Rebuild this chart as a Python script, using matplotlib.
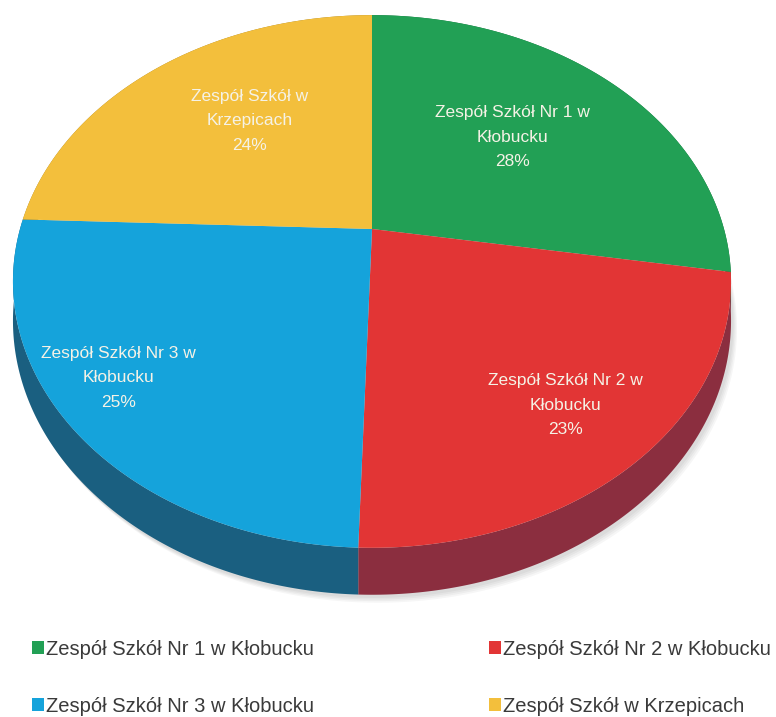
import numpy as np
import matplotlib.pyplot as plt
from matplotlib.patches import Polygon, Patch

# dane
schools = ["Zespół Szkół Nr 1 w Kłobucku", "Zespół Szkół Nr 2 w Kłobucku",
           "Zespół Szkół Nr 3 w Kłobucku", "Zespół Szkół w Krzepicach"]
inner_labels = ["Zespół Szkół Nr 1 w\nKłobucku", "Zespół Szkół Nr 2 w\nKłobucku",
                "Zespół Szkół Nr 3 w\nKłobucku", "Zespół Szkół w\nKrzepicach"]
shares = [27.6, 22.9, 25.1, 24.4]

top_colors = ["#22A055", "#E23535", "#15A3DB", "#F3BF3C"]
side_colors = ["#16683A", "#8B2E3F", "#1A5F80", "#9E7A22"]
# polozenie etykiet: promien (ulamek) i przesuniecie kata
label_r = [0.577, 0.775, 0.831, 0.596]
label_dt = [1.7, -0.8, -4.1, -4.5]

# geometria (piksele)
cx, cy = 372, 229
a, b, k = 352, 256, 0.197
depth = 37.7

def proj(theta, f=1.0, drop=0.0):
    t = np.radians(theta)
    u = f * np.cos(t)
    v = f * np.sin(t)
    w = 1 + k * v
    return np.column_stack([cx + a * u / w, cy - b * v / w + drop / w])

fig = plt.figure(figsize=(7.76, 7.17), dpi=100)
ax = fig.add_axes([0, 0, 1, 1])
ax.set_xlim(0, 776)
ax.set_ylim(717, 0)
ax.axis('off')

# cien
full = np.linspace(0, 360, 361)
for off in [10, 8, 6, 4]:
    pts = proj(full, 1.0, depth) + np.array([off * 0.6, off * 0.8])
    ax.add_patch(Polygon(pts, closed=True, color="#000000", alpha=0.035, lw=0, zorder=1))

total = sum(shares)
start = 90.0
angles = []
for s in shares:
    end = start - 360.0 * s / total
    angles.append((start, end))
    start = end

# boki
for (t0, t1), c in zip(angles, side_colors):
    ts = np.linspace(t0, t1, 200)
    pts = np.vstack([proj(ts, 1.0, 0), proj(ts[::-1], 1.0, depth)])
    ax.add_patch(Polygon(pts, closed=True, color=c, lw=0, zorder=2))

# wierzch
for (t0, t1), c in zip(angles, top_colors):
    ts = np.linspace(t0, t1, 200)
    pts = np.vstack([[cx, cy], proj(ts)])
    ax.add_patch(Polygon(pts, closed=True, color=c, lw=0, zorder=3))

# etykiety
for (t0, t1), lab, s, r, dt in zip(angles, inner_labels, shares, label_r, label_dt):
    x, y = proj((t0 + t1) / 2 + dt, r)[0]
    ax.text(x, y, f"{lab}\n{s:.0f}%", ha='center', va='center', color="#F5F2E6",
            fontsize=12.5, family=['Liberation Sans', 'DejaVu Sans'],
            linespacing=1.8, zorder=5)

order = [0, 2, 1, 3]
handles = [Patch(facecolor=top_colors[i], edgecolor='none', label=schools[i]) for i in order]
ax.legend(handles=handles, ncol=2, mode='expand', loc='lower left',
          bbox_to_anchor=(24 / 776, -7 / 717, 755 / 776, 100 / 717), frameon=False,
          prop={'family': ['Liberation Sans Narrow', 'Liberation Sans', 'DejaVu Sans'], 'size': 14.5},
          labelcolor="#3A3A3A", handlelength=0.6, handleheight=0.6, handletextpad=0.1,
          labelspacing=1.9, borderaxespad=0.0)

fig.savefig("out.png", dpi=100)
